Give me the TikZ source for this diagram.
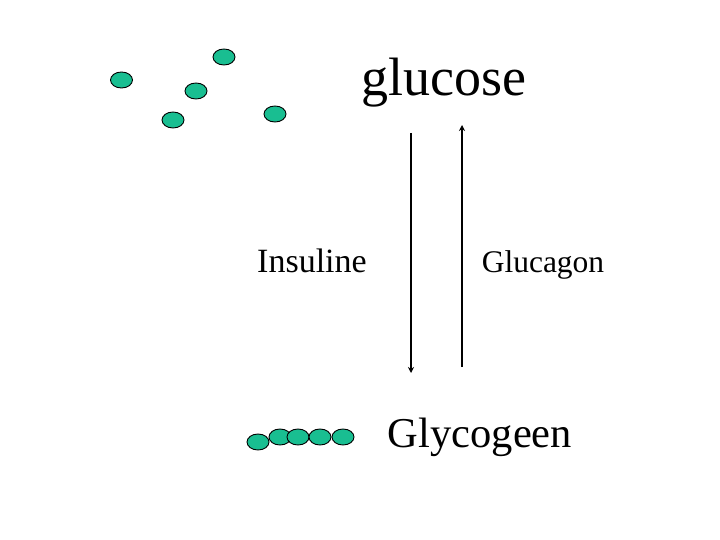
\documentclass[tikz,border=0pt]{standalone}
\usepackage{fontspec}
\setmainfont{Liberation Serif}
\usetikzlibrary{shapes.geometric,arrows.meta}
\definecolor{molgreen}{RGB}{25,190,145}
\tikzset{
  mol/.style={ellipse,draw=black,fill=molgreen,line width=0.9pt,inner sep=0pt,
    minimum width=22pt,minimum height=16pt},
  lbl/.style={anchor=base,inner sep=0pt},
  pathway/.style={line width=1.6pt,-{Stealth[length=6pt,width=6pt]}}
}
\begin{document}
\begin{tikzpicture}[x=1pt,y=-1pt]

\useasboundingbox (0,0) rectangle (720,540) ;

% free glucose
\node[mol] (g1) at (121.5,80) {} ;
\node[mol] (g2) at (224,57) {} ;
\node[mol] (g3) at (196,91) {} ;
\node[mol] (g4) at (173,120) {} ;
\node[mol] (g5) at (275,114) {} ;

% glycogen chain
\node[mol] (c1) at (258,442) {} ;
\node[mol] (c2) at (280,437) {} ;
\node[mol] (c3) at (298,437) {} ;
\node[mol] (c4) at (320,437) {} ;
\node[mol] (c5) at (343,437) {} ;

\node[lbl] (glucose) at (444,96) {\fontsize{54}{60}\selectfont glucose} ;
\node[lbl] (insuline) at (312,272) {\fontsize{34}{40}\selectfont Insuline} ;
\node[lbl] (glucagon) at (543,272) {\fontsize{31.5}{38}\selectfont Glucagon} ;
\node[lbl] (glycogeen) at (480,447) {\fontsize{42.5}{50}\selectfont Glycogeen} ;

\coordinate (ins_top) at (411,133) ;
\coordinate (ins_bot) at (411,373) ;
\coordinate (glc_bot) at (462,367) ;
\coordinate (glc_top) at (462,125) ;

\draw[pathway] (ins_top) -- (ins_bot) ;
\draw[pathway] (glc_bot) -- (glc_top) ;

\end{tikzpicture}
\end{document}
